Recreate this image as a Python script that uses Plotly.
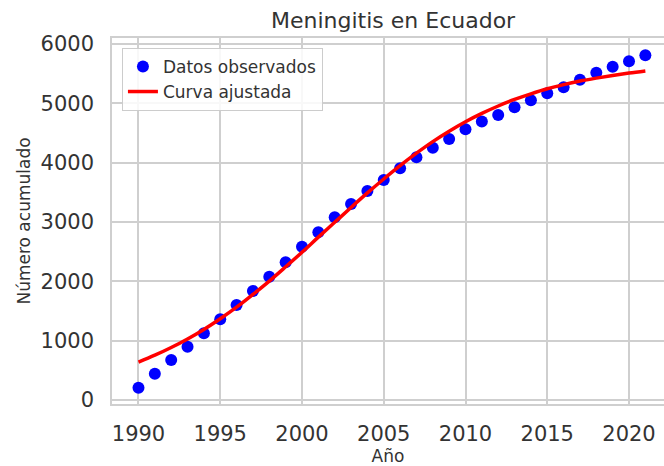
import plotly.graph_objects as go

years = list(range(1990, 2022))
observed = [207, 443, 674, 898, 1124, 1360, 1601, 1837, 2079, 2320, 2584,
            2826, 3079, 3303, 3523, 3708, 3905, 4090, 4253, 4399, 4562,
            4695, 4803, 4933, 5051, 5169, 5270, 5398, 5516, 5617, 5708, 5809]
fitted = [640, 755, 885, 1030, 1190, 1370, 1565, 1780, 2005, 2245, 2490,
          2745, 2995, 3245, 3490, 3725, 3950, 4160, 4355, 4530, 4690,
          4830, 4955, 5065, 5160, 5245, 5315, 5375, 5425, 5470, 5510, 5545]

x_ticks = [1990, 1995, 2000, 2005, 2010, 2015, 2020]
y_ticks = [0, 1000, 2000, 3000, 4000, 5000, 6000]

text_color = "#333333"
grid_color = "#cfcfcf"

fig = go.Figure()
fig.add_trace(go.Scatter(
    x=years, y=observed, mode="markers", name="Datos observados",
    marker=dict(color="#0000ff", size=12, line=dict(width=0)),
))
fig.add_trace(go.Scatter(
    x=years, y=fitted, mode="lines", name="Curva ajustada",
    line=dict(color="#ff0000", width=3.5, shape="spline"),
))

fig.update_layout(
    width=664, height=466,
    margin=dict(l=112, r=0, t=38, b=62),
    paper_bgcolor="white", plot_bgcolor="white",
    font=dict(family="DejaVu Sans", color=text_color),
    title=dict(text="Meningitis en Ecuador", x=0.592, xref="container",
               xanchor="center", y=1 - 20 / 466, yref="container",
               yanchor="middle", font=dict(size=22, color=text_color)),
    legend=dict(x=0.018, y=0.973, xanchor="left", yanchor="top",
                bgcolor="rgba(255,255,255,0.85)", bordercolor="#cccccc",
                borderwidth=1, tracegroupgap=0, itemwidth=30,
                font=dict(size=17, color=text_color)),
    showlegend=True,
)
fig.update_xaxes(
    range=[1988.38, 2022.14], tickvals=x_ticks,
    showgrid=True, gridcolor=grid_color, gridwidth=1.5,
    showline=True, linecolor=grid_color, linewidth=1.5, mirror=True,
    zeroline=False, ticks="", tickfont=dict(size=21, color=text_color),
    ticklabelstandoff=10,
    title=dict(text="Año", font=dict(size=17, color=text_color), standoff=2),
)
fig.update_yaxes(
    range=[-67, 6101], tickvals=y_ticks,
    showgrid=True, gridcolor=grid_color, gridwidth=1.5,
    showline=True, linecolor=grid_color, linewidth=1.5,
    zeroline=False, ticks="", tickfont=dict(size=21, color=text_color),
    ticklabelstandoff=12,
    title=dict(text="Número acumulado", font=dict(size=17, color=text_color), standoff=6),
)

fig.write_html("out.html")
